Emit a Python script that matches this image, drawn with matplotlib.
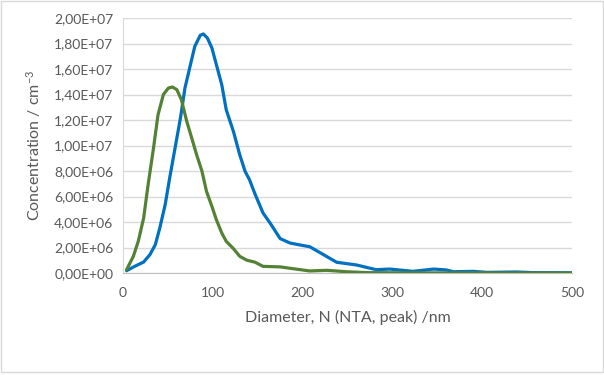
import matplotlib
matplotlib.use('Agg')
import matplotlib.pyplot as plt
from matplotlib.ticker import FuncFormatter, MultipleLocator
from matplotlib.patches import Rectangle

# diameter (nm) and concentration (cm^-3)
blue_x = [4, 13, 23, 30, 36, 41, 47, 52, 58, 64, 69, 75, 80, 86, 89.5, 94,
          99, 104, 110, 115, 123, 130, 136, 141, 147, 156, 164, 175, 186,
          197, 208, 223, 238, 260, 282, 297, 323, 346, 360, 368, 390, 405,
          438, 457, 500]
blue_y = [0.18e6, 0.52e6, 0.86e6, 1.44e6, 2.22e6, 3.53e6, 5.36e6, 7.45e6,
          9.8e6, 12.16e6, 14.5e6, 16.3e6, 17.78e6, 18.64e6, 18.75e6, 18.43e6,
          17.65e6, 16.34e6, 14.77e6, 12.8e6, 11.1e6, 9.28e6, 7.97e6, 7.3e6,
          6.2e6, 4.7e6, 3.9e6, 2.7e6, 2.35e6, 2.2e6, 2.06e6, 1.45e6, 0.84e6,
          0.63e6, 0.26e6, 0.31e6, 0.13e6, 0.31e6, 0.24e6, 0.10e6, 0.13e6,
          0.05e6, 0.08e6, 0.03e6, 0.02e6]

green_x = [4, 11.5, 17, 23, 28, 34, 39, 45, 50.5, 55, 60, 65, 71, 76.5, 82,
           88, 93, 99, 104, 110, 115, 123, 130, 138, 147, 156, 175, 186, 208,
           227, 249, 271, 300, 350, 400, 450, 500]
green_y = [0.26e6, 1.3e6, 2.48e6, 4.3e6, 6.93e6, 9.8e6, 12.4e6, 14.0e6,
           14.5e6, 14.59e6, 14.38e6, 13.6e6, 11.9e6, 10.6e6, 9.28e6, 7.97e6,
           6.4e6, 5.23e6, 4.18e6, 3.14e6, 2.48e6, 1.91e6, 1.31e6, 1.0e6,
           0.85e6, 0.52e6, 0.48e6, 0.37e6, 0.16e6, 0.21e6, 0.10e6, 0.03e6,
           0.02e6, 0.01e6, 0.01e6, 0.0, 0.0]

plt.rcParams['font.family'] = ['Lato', 'DejaVu Sans']
plt.rcParams['mathtext.default'] = 'regular'

fig = plt.figure(figsize=(6.04, 3.75), dpi=100)
fig.patches.append(Rectangle((0.001, 0.008), 0.997, 0.99, transform=fig.transFigure,
                             fill=False, edgecolor='#D9D9D9', linewidth=1))
ax = fig.add_axes([0.2036, 0.272, 0.7434, 0.680])

ax.plot(blue_x, blue_y, color='#0070C0', linewidth=2.3, solid_joinstyle='round',
        solid_capstyle='round', zorder=3)
ax.plot(green_x, green_y, color='#548235', linewidth=2.3, solid_joinstyle='round',
        solid_capstyle='round', zorder=3)

ax.set_xlim(0, 500)
ax.set_ylim(0, 2.0e7)
ax.xaxis.set_major_locator(MultipleLocator(100))
ax.yaxis.set_major_locator(MultipleLocator(2e6))
ax.yaxis.set_major_formatter(FuncFormatter(lambda v, p: f"{v:.2E}".replace('.', ',')))

ax.grid(axis='y', color='#D9D9D9', linewidth=1)
ax.set_axisbelow(True)
for s in ['top', 'right']:
    ax.spines[s].set_visible(False)
ax.spines['left'].set_color('#D9D9D9')
ax.spines['bottom'].set_color('#BFBFBF')
ax.tick_params(length=0, labelsize=10, colors='#595959', pad=7)
ax.tick_params(axis='x', pad=10)

ax.set_xlabel('Diameter, N (NTA, peak) /nm', fontsize=11.5, color='#595959', labelpad=8)
ax.set_ylabel('Concentration / cm$^{-3}$', fontsize=11.5, color='#595959', labelpad=8)

fig.savefig('out.png', dpi=100)
